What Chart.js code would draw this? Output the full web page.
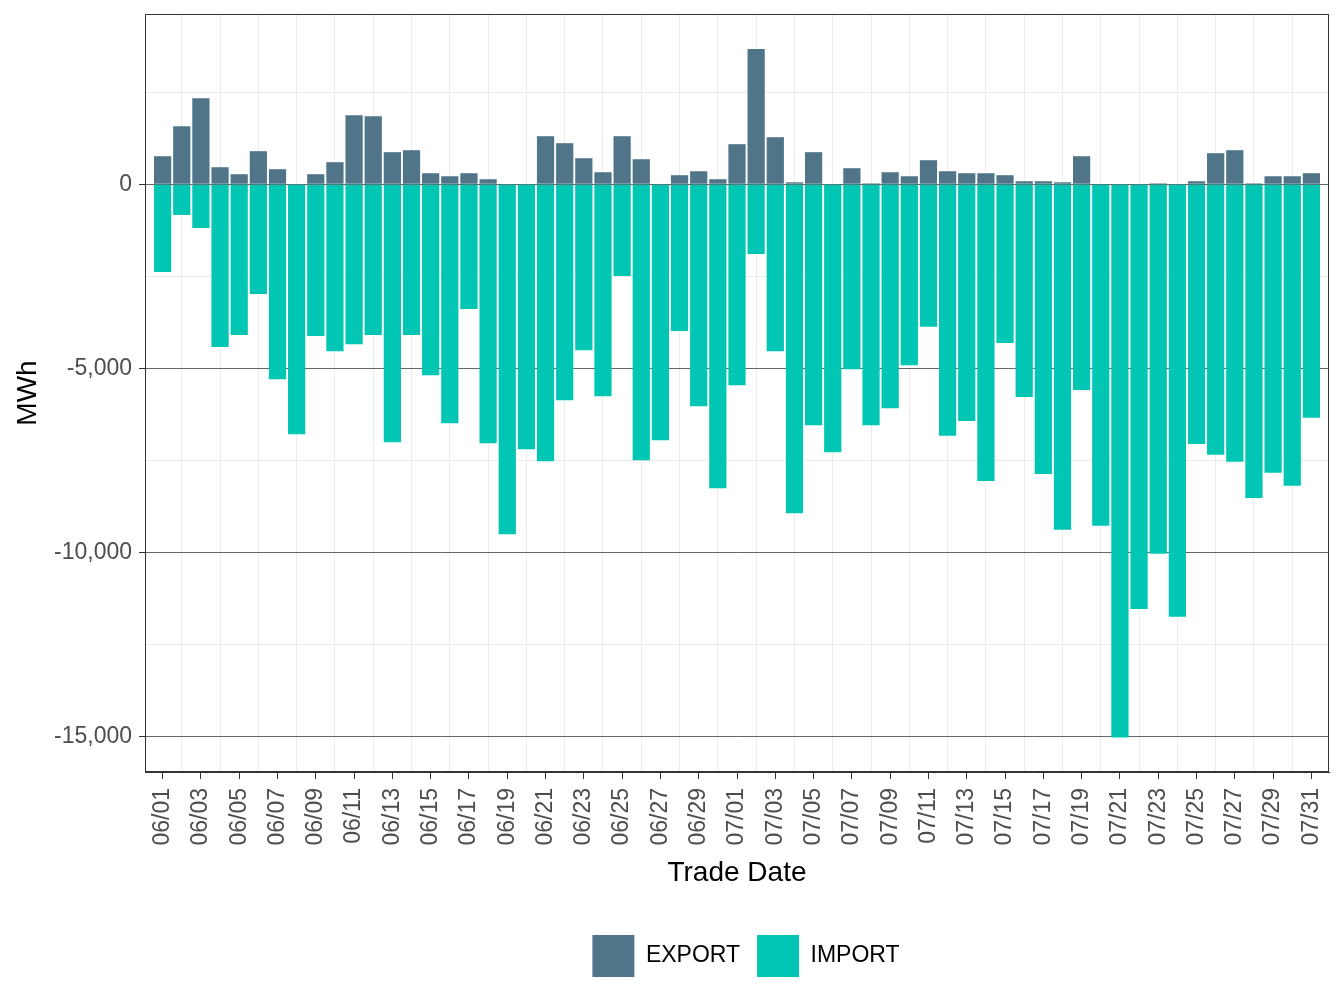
<!DOCTYPE html>
<html>
<head>
<meta charset="utf-8">
<script src="https://cdn.jsdelivr.net/npm/chart.js@4/dist/chart.umd.min.js"></script>
<style>
  html, body { margin: 0; padding: 0; background: #fff; }
  #wrap { width: 1344px; height: 1008px; }
</style>
</head>
<body>
<div id="wrap"><canvas id="flow"></canvas></div>
<script>
// Trade dates (June - July)
const tradeDates = [
  '06/01','06/02','06/03','06/04','06/05','06/06','06/07','06/08','06/09','06/10',
  '06/11','06/12','06/13','06/14','06/15','06/16','06/17','06/18','06/19','06/20',
  '06/21','06/22','06/23','06/24','06/25','06/26','06/27','06/28','06/29','06/30',
  '07/01','07/02','07/03','07/04','07/05','07/06','07/07','07/08','07/09','07/10',
  '07/11','07/12','07/13','07/14','07/15','07/16','07/17','07/18','07/19','07/20',
  '07/21','07/22','07/23','07/24','07/25','07/26','07/27','07/28','07/29','07/30','07/31'
];

// MWh, geschat uit de figuur
const exportMWh = [
  761, 1576, 2337, 462, 272, 897, 408, 0, 272, 598,
  1875, 1848, 870, 924, 299, 217, 299, 136, 0, 0,
  1304, 1114, 706, 326, 1304, 679, 0, 245, 353, 136,
  1087, 3668, 1277, 54, 870, 0, 435, 27, 326, 217,
  652, 353, 299, 299, 245, 82, 82, 54, 761, 0,
  0, 0, 27, 0, 82, 842, 924, 27, 217, 217, 299
];
const importMWh = [
  -2382, -833, -1187, -4420, -4094, -2980, -5289, -6784, -4121, -4529,
  -4339, -4094, -7001, -4094, -5181, -6485, -3387, -7028, -9501, -7191,
  -7517, -5860, -4502, -5751, -2491, -7490, -6947, -3985, -6023, -8251,
  -5453, -1893, -4529, -8930, -6539, -7273, -5018, -6539, -6078, -4909,
  -3866, -6828, -6426, -8050, -4308, -5774, -7860, -9376, -5583, -9265,
  -15017, -11525, -10028, -11735, -7048, -7338, -7529, -8512, -7830, -8181, -6336
];
// y-as: grote en kleine ticks
const yTicks = [2500, 0, -2500, -5000, -7500, -10000, -12500, -15000];
const yMin = -15950, yMax = 4620;
const xPad = 0.92;   // ruimte links/rechts van de eerste/laatste staaf (in dagen)

Chart.defaults.font.family = "'Liberation Sans', Arial, sans-serif";

// panel rand rondom + legenda onder het panel centreren
const panelBorder = {
  id: 'panelBorder',
  afterLayout(chart) {
    const a = chart.chartArea, lg = chart.legend;
    const shift = (a.left + a.right) / 2 + 9 - (lg.left + lg.right) / 2;
    lg.left += shift;
    lg.right += shift;
  },
  afterDraw(chart) {
    const a = chart.chartArea, c = chart.ctx;
    c.save();
    c.strokeStyle = '#333';
    c.lineWidth = 1;
    c.strokeRect(a.left + 0.5, a.top + 0.5, a.right - a.left - 1, a.bottom - a.top - 1);
    c.restore();
  }
};

new Chart(document.getElementById('flow'), {
  type: 'bar',
  data: {
    labels: tradeDates.map((d, i) => i),
    datasets: [
      { label: 'EXPORT', data: exportMWh, backgroundColor: '#507589', barPercentage: 0.9, categoryPercentage: 1.0 },
      { label: 'IMPORT', data: importMWh, backgroundColor: '#00C6B3', barPercentage: 0.9, categoryPercentage: 1.0 }
    ]
  },
  options: {
    responsive: true,
    maintainAspectRatio: false,
    devicePixelRatio: 1,
    animation: false,
    layout: { padding: { top: 14, right: 15, left: 0, bottom: 21 } },
    plugins: {
      tooltip: { enabled: false },
      legend: {
        position: 'bottom',
        labels: { boxWidth: 42, boxHeight: 42, padding: 17, color: '#000', font: { size: 23 } }
      }
    },
    scales: {
      x: {
        type: 'linear',
        stacked: true,
        offset: false,
        min: -xPad, max: tradeDates.length - 1 + xPad,
        afterBuildTicks: s => { s.ticks = tradeDates.map((d, i) => ({ value: i })); },
        grid: {
          offset: false,
          color: ctx => ctx.index % 2 === 1 ? '#ebebeb' : 'rgba(0,0,0,0)',
          tickColor: ctx => ctx.index % 2 === 0 ? '#333' : 'rgba(0,0,0,0)',
          tickLength: 7
        },
        border: { color: '#333' },
        ticks: {
          autoSkip: false, maxRotation: 90, minRotation: 90, padding: 9,
          color: '#4d4d4d', font: { size: 23 },
          callback: v => v % 2 === 0 ? tradeDates[v] : ''
        },
        title: { display: true, text: 'Trade Date', color: '#000', font: { size: 28 }, padding: { top: 0, bottom: 28 } },
        afterFit: s => { s.height = 146; s.paddingLeft = 0; s.paddingRight = 0; }
      },
      y: {
        stacked: true,
        min: yMin, max: yMax,
        afterBuildTicks: s => { s.ticks = yTicks.map(v => ({ value: v })); },
        grid: {
          color: ctx => ctx.tick && ctx.tick.value % 5000 === 0 ? '#666' : '#ebebeb',
          tickColor: ctx => ctx.tick && ctx.tick.value % 5000 === 0 ? '#333' : 'rgba(0,0,0,0)',
          tickLength: 6
        },
        border: { color: '#333' },
        ticks: {
          padding: 7,
          color: '#4d4d4d', font: { size: 23 },
          callback: v => v % 5000 === 0 ? v.toLocaleString('en-US') : ''
        },
        title: { display: true, text: 'MWh', color: '#000', font: { size: 28 }, padding: { top: 11, bottom: 0 } },
        afterFit: s => { s.width = 145; s.paddingTop = 0; s.paddingBottom = 0; }
      }
    }
  },
  plugins: [panelBorder]
});
</script>
</body>
</html>
